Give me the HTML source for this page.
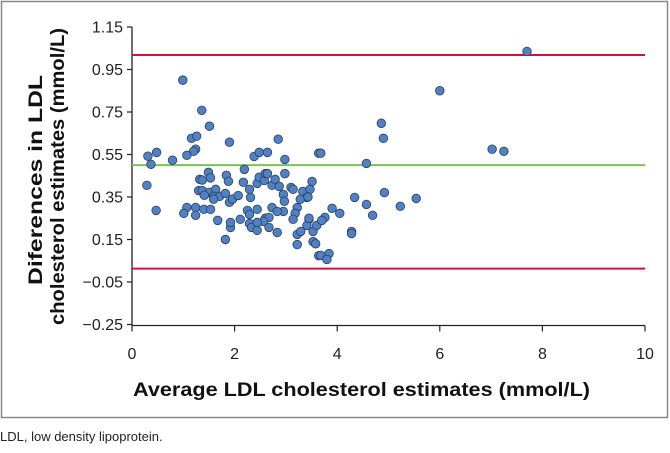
<!DOCTYPE html>
<html><head><meta charset="utf-8"><style>
body{margin:0;background:#fff;width:670px;height:448px;overflow:hidden;font-family:"Liberation Sans",sans-serif}
</style></head><body>
<svg width="670" height="448" font-family="Liberation Sans, sans-serif">
<rect x="1.5" y="1.5" width="666" height="416" fill="none" stroke="#888" stroke-width="1.5"/>
<g id="grid"></g>
<g id="marks"></g>
<text x="133" y="396" font-size="19" font-weight="bold" fill="#111" textLength="457" lengthAdjust="spacingAndGlyphs">Average LDL cholesterol estimates (mmol/L)</text>
<text transform="translate(42,285) rotate(-90)" font-size="19" font-weight="bold" fill="#111" textLength="210" lengthAdjust="spacingAndGlyphs">Diferences in LDL</text>
<text transform="translate(64,325) rotate(-90)" font-size="19" font-weight="bold" fill="#111" textLength="297" lengthAdjust="spacingAndGlyphs">cholesterol estimates (mmol/L)</text>
<text x="0" y="441" font-size="13" fill="#222">LDL, low density lipoprotein.</text>
</svg>
<script>
const xTicks=[0,2,4,6,8,10];
const yTicks=[1.15,0.95,0.75,0.55,0.35,0.15,-0.05,-0.25];
const yTickLabels=["1.15","0.95","0.75","0.55","0.35","0.15","\u22120.05","\u22120.25"];
const meanDiff=[0.50];
const limits=[1.018,0.013];
const xs=[1.36,1.51,1.16,1.26,1.24,1.20,1.07,0.79,0.31,0.48,0.37,0.29,0.47,1.90,2.85,2.38,2.48,2.64,2.98,3.64,
1.49,1.53,1.32,1.37,2.19,1.84,1.88,1.30,1.37,1.51,1.63,1.41,1.59,1.71,1.59,1.82,1.90,1.96,2.07,2.17,2.29,2.44,2.48,2.58,2.60,2.64,2.73,2.79,2.87,2.98,
2.31,2.95,2.97,3.10,3.14,3.33,3.51,3.47,3.41,3.28,3.22,2.73,2.95,2.83,2.44,2.25,2.29,2.60,2.67,3.18,3.14,3.45,1.07,1.24,1.40,1.53,1.01,1.24,1.67,2.11,
1.92,1.92,2.29,2.33,2.44,2.56,2.67,2.83,2.44,1.82,3.22,3.29,3.41,3.53,3.53,3.22,3.64,3.60,
6.0,4.86,4.90,3.68,7.02,4.57,3.43,4.34,4.92,5.54,4.57,5.23,3.90,4.05,4.69,3.45,3.76,3.70,4.28,4.28,3.58,3.68,3.84,3.80,7.25,7.70,0.99];
const ys=[0.758,0.683,0.626,0.636,0.575,0.565,0.546,0.523,0.542,0.560,0.504,0.405,0.287,0.608,0.622,0.541,0.560,0.560,0.527,0.556,
0.466,0.44,0.433,0.43,0.48,0.452,0.424,0.38,0.38,0.372,0.386,0.358,0.353,0.353,0.34,0.367,0.325,0.34,0.357,0.419,0.386,0.414,0.443,0.428,0.46,0.46,0.405,0.433,0.40,0.46,
0.348,0.362,0.33,0.395,0.386,0.376,0.423,0.386,0.348,0.339,0.30,0.30,0.282,0.282,0.292,0.287,0.268,0.25,0.254,0.273,0.245,0.245,0.301,0.301,0.292,0.292,0.273,0.264,0.24,0.245,
0.207,0.23,0.225,0.207,0.193,0.235,0.207,0.183,0.23,0.15,0.174,0.188,0.216,0.188,0.14,0.126,0.074,0.216,
0.85,0.697,0.626,0.556,0.575,0.508,0.35,0.348,0.371,0.343,0.315,0.306,0.297,0.273,0.264,0.25,0.254,0.24,0.188,0.178,0.13,0.075,0.084,0.056,0.565,1.035,0.90];
const NS="http://www.w3.org/2000/svg";
const X0=132,X1=645,Y0=27,Y1=324.5;
function sx(v){return X0+(v-0)/(10-0)*(X1-X0);}
function sy(v){return Y0+(1.15-v)/(1.15+0.25)*(Y1-Y0);}
const grid=document.getElementById('grid'),marks=document.getElementById('marks');
function mk(tag,attrs,parent){const e=document.createElementNS(NS,tag);for(const k in attrs)e.setAttribute(k,attrs[k]);parent.appendChild(e);return e;}
let ax=mk('line',{x1:X0,y1:Y0,x2:X0,y2:Y1+1,stroke:'#222','stroke-width':1.3},grid);


let bx=mk('line',{x1:X0,y1:Y1+1,x2:X1,y2:Y1+1,stroke:'#222','stroke-width':1.3},grid);


yTicks.forEach((v,i)=>{
 const y=sy(v);
 const t=mk('line',{x1:X0-5,y1:y,x2:X0,y2:y,stroke:'#222','stroke-width':1.2},grid);
 
 
 const l=mk('text',{x:X0-9,y:y+5.5,'text-anchor':'end','font-size':16,fill:'#222'},grid);
 l.textContent=yTickLabels[i];
 
 
});
xTicks.forEach(v=>{
 const x=sx(v);
 const t=mk('line',{x1:x,y1:Y1+1,x2:x,y2:Y1+7,stroke:'#222','stroke-width':1.2},grid);
 
 
 const l=mk('text',{x:x,y:359,'text-anchor':'middle','font-size':16,fill:'#222'},grid);
 l.textContent=String(v);
 
 
});
limits.forEach(v=>{
 const l=mk('line',{x1:X0,x2:X1,y1:sy(v),y2:sy(v),stroke:'#d0103a','stroke-width':2},grid);
 
 
});
meanDiff.forEach(v=>{
 const l=mk('line',{x1:X0,x2:X1,y1:sy(v),y2:sy(v),stroke:'#7cc450','stroke-width':2},grid);
 
 
});
xs.forEach((x,i)=>{
 const c=mk('circle',{cx:sx(x),cy:sy(ys[i]),r:4.3,fill:'#4f81c4',stroke:'#2a3f5c','stroke-width':0.8},marks);
 
 
});
</script>
</body></html>
